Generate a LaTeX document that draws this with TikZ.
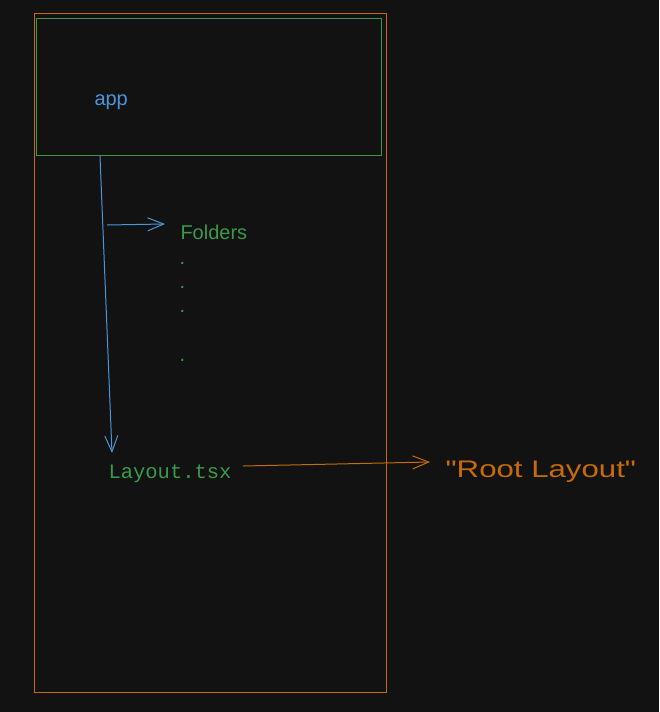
\documentclass[tikz,border=0pt]{standalone}
\usepackage{fontspec}
\setmainfont{Liberation Sans}
\setmonofont{Liberation Mono}
\usetikzlibrary{arrows.meta,positioning,calc}
\definecolor{bgc}{HTML}{121212}
\definecolor{c1}{HTML}{C66A0A}
\definecolor{c2}{HTML}{3A9A4A}
\definecolor{c3}{HTML}{4A96DC}

\begin{document}
\begin{tikzpicture}[x=1pt, y=-1pt, line width=1pt, >={Straight Barb[length=16pt,width=13pt]}]
\tikzstyle{txt}=[inner sep=0pt, anchor=base west, font=\fontsize{20}{22}\selectfont]
\tikzstyle{dot}=[inner sep=0pt, anchor=base west, text=c2, font=\fontsize{20}{22}\selectfont]
\fill[bgc] (0,0) rectangle (659,712);
\draw[c1] (34.5,13.5) rectangle (386.5,692.5);
\draw[c2] (36.5,18.5) rectangle (381.5,155.5);
\node[txt, text=c3]  (app)     at (94,105)  {app};
\node[txt, text=c2]  (folders) at (180,239) {Folders};
\node[dot] (d1) at (179,264) {.};
\node[dot] (d2) at (179,288) {.};
\node[dot] (d3) at (179,312) {.};
\node[dot] (d4) at (179,361) {.};
\node[txt, text=c2, font=\ttfamily\fontsize{20.5}{22}\selectfont] (layout) at (108,478) {Layout.tsx};
\node[txt, text=c1, xscale=1.3, font=\fontsize{24}{26}\selectfont] (root) at (445,477) {\textquotedbl Root Layout\textquotedbl};
% connectors
\coordinate (a1) at (100,156);
\coordinate (a2) at (112,453);
\coordinate (b1) at (107,225);
\coordinate (b2) at (165,224);
\coordinate (c1s) at (243,466);
\coordinate (c1e) at (430,462);
\draw[c3, ->] (a1) -- (a2);
\draw[c3, ->] (b1) -- (b2);
\draw[c1, ->] (c1s) -- (c1e);
\end{tikzpicture}
\end{document}
